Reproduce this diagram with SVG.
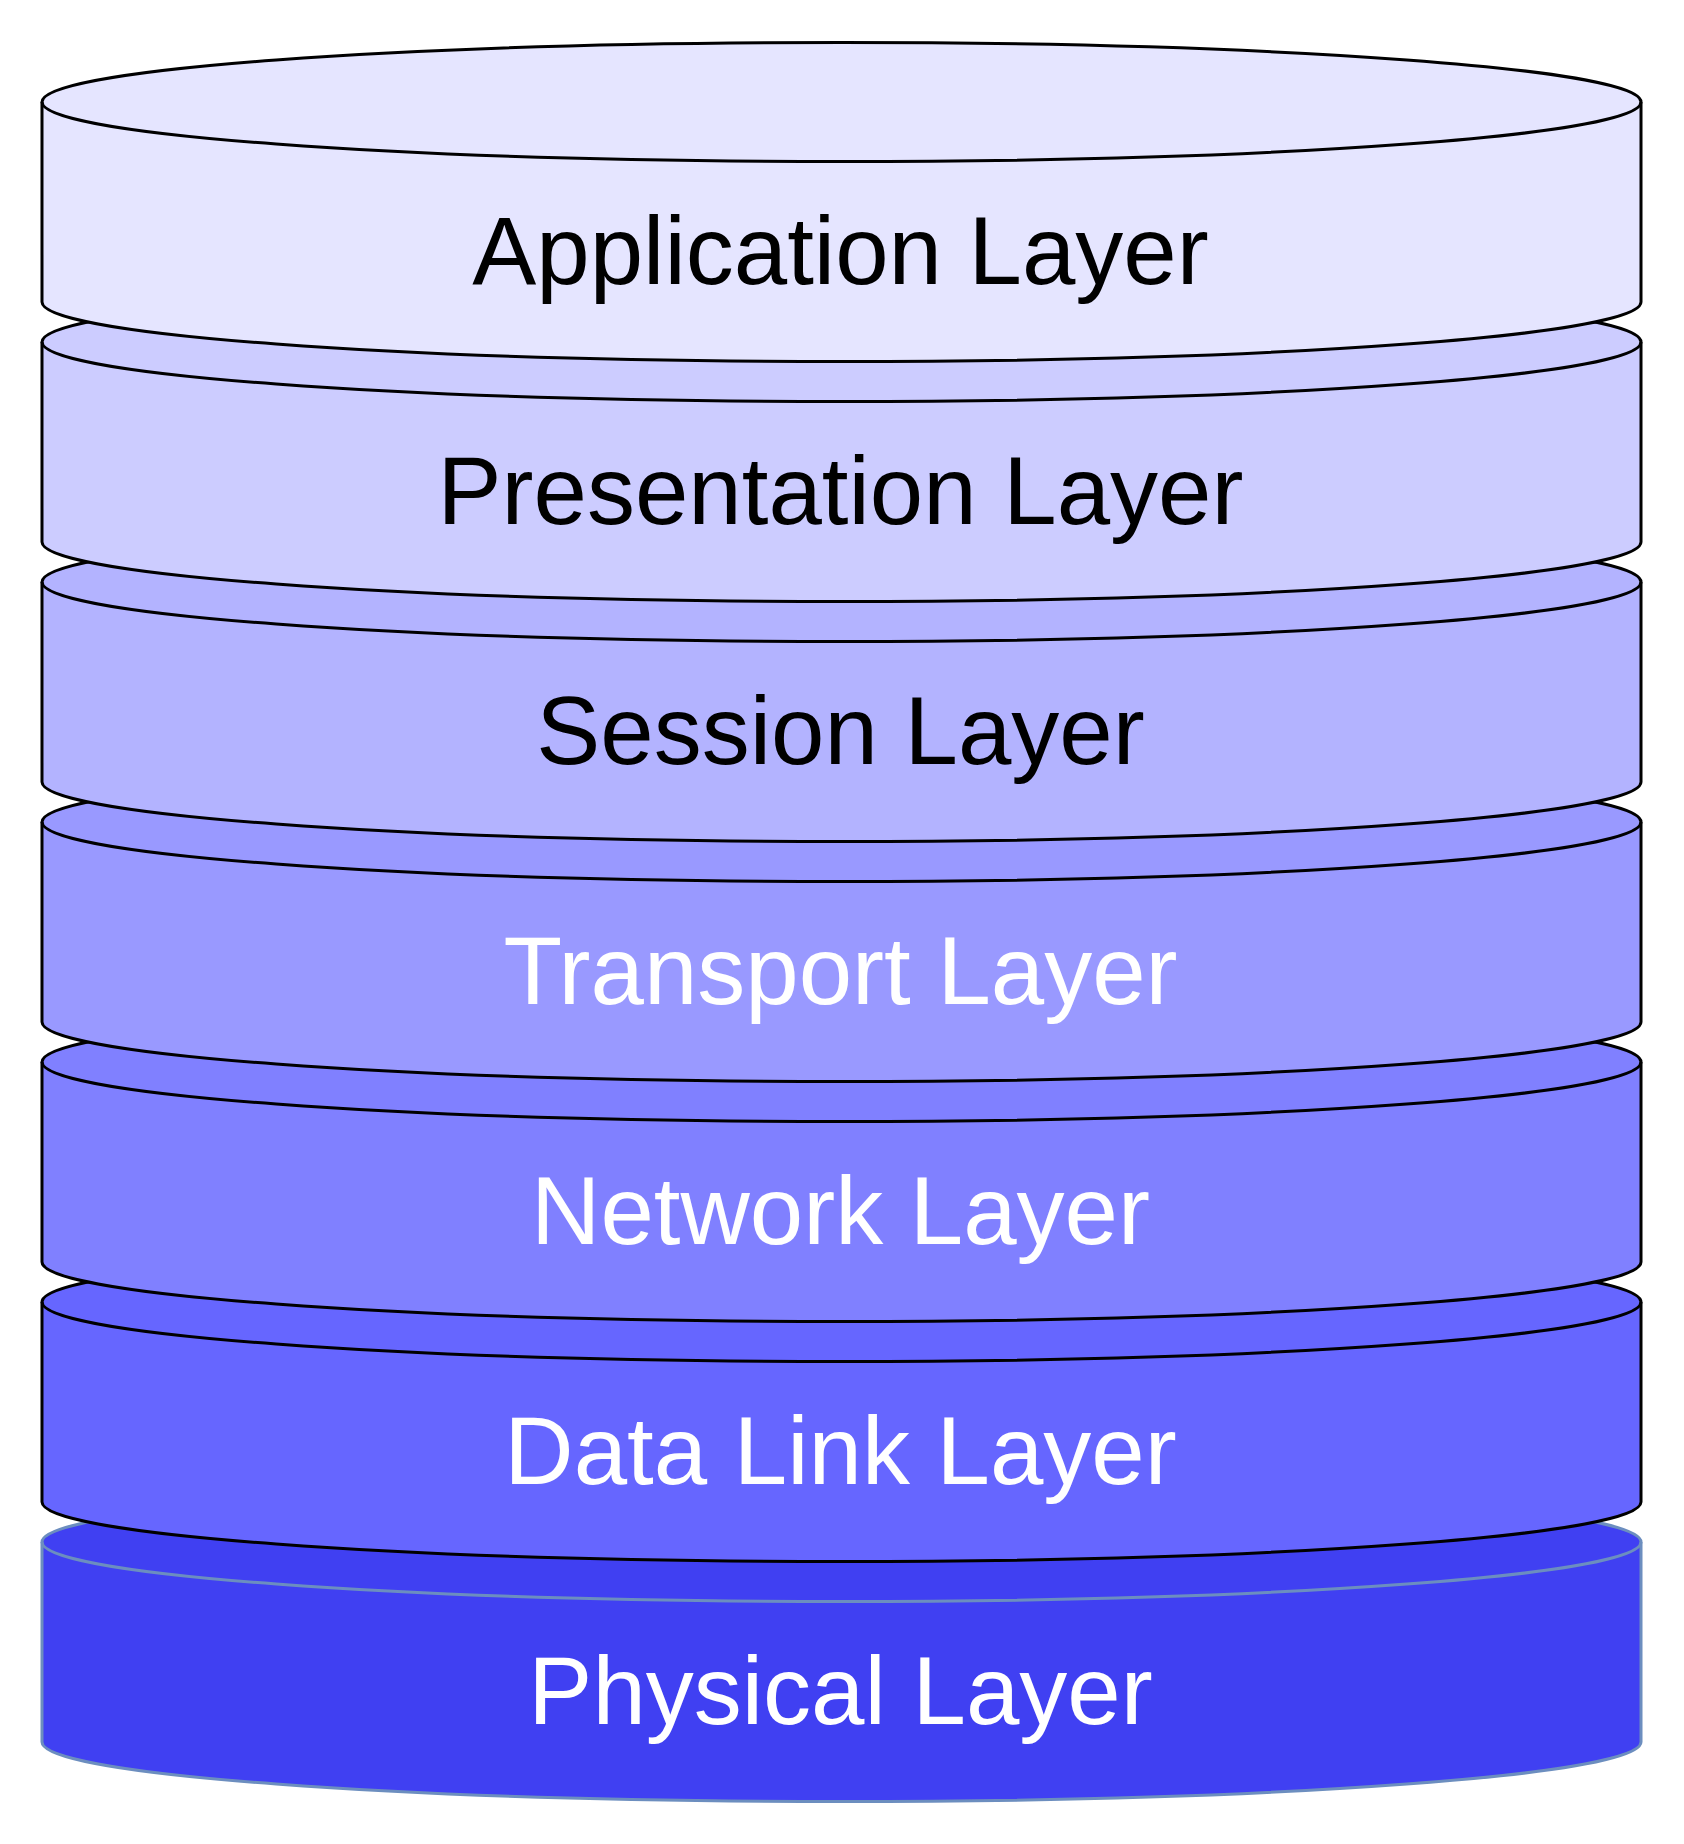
<svg xmlns="http://www.w3.org/2000/svg" width="1684" height="1844" viewBox="0 0 1684 1844">
<style>
.body{stroke:#000;stroke-width:3;stroke-linejoin:round}
.rim{fill:none;stroke:#000;stroke-width:3}
.phys .body,.phys .rim{stroke:#6C8EBF}
.lbl{font-family:"Liberation Sans",Arial,sans-serif;font-size:96px;text-anchor:middle}
.dark{fill:#000}
.light{fill:#fff}
</style>
<rect width="1684" height="1844" fill="#fff"/>
<g id="connectors"></g>
<g id="physical" class="phys">
<path class="body" fill="#4040F2" d="M42,1542 A799.5,59.5 0 0 1 1641,1542 L1641,1742 A799.5,59.5 0 0 1 42,1742 Z"/>
<path class="rim" d="M42,1542 A799.5,59.5 0 0 0 1641,1542"/>
<text class="lbl light" x="840.5" y="1724">Physical Layer</text>
</g>
<g id="datalink">
<path class="body" fill="#6666FF" d="M42,1302 A799.5,59.5 0 0 1 1641,1302 L1641,1502 A799.5,59.5 0 0 1 42,1502 Z"/>
<path class="rim" d="M42,1302 A799.5,59.5 0 0 0 1641,1302"/>
<text class="lbl light" x="840.5" y="1484">Data Link Layer</text>
</g>
<g id="network">
<path class="body" fill="#8080FF" d="M42,1062 A799.5,59.5 0 0 1 1641,1062 L1641,1262 A799.5,59.5 0 0 1 42,1262 Z"/>
<path class="rim" d="M42,1062 A799.5,59.5 0 0 0 1641,1062"/>
<text class="lbl light" x="840.5" y="1244">Network Layer</text>
</g>
<g id="transport">
<path class="body" fill="#9999FF" d="M42,822 A799.5,59.5 0 0 1 1641,822 L1641,1022 A799.5,59.5 0 0 1 42,1022 Z"/>
<path class="rim" d="M42,822 A799.5,59.5 0 0 0 1641,822"/>
<text class="lbl light" x="840.5" y="1004">Transport Layer</text>
</g>
<g id="session">
<path class="body" fill="#B3B3FF" d="M42,582 A799.5,59.5 0 0 1 1641,582 L1641,782 A799.5,59.5 0 0 1 42,782 Z"/>
<path class="rim" d="M42,582 A799.5,59.5 0 0 0 1641,582"/>
<text class="lbl dark" x="840.5" y="764">Session Layer</text>
</g>
<g id="presentation">
<path class="body" fill="#CCCCFF" d="M42,342 A799.5,59.5 0 0 1 1641,342 L1641,542 A799.5,59.5 0 0 1 42,542 Z"/>
<path class="rim" d="M42,342 A799.5,59.5 0 0 0 1641,342"/>
<text class="lbl dark" x="840.5" y="524">Presentation Layer</text>
</g>
<g id="application">
<path class="body" fill="#E5E5FF" d="M42,102 A799.5,59.5 0 0 1 1641,102 L1641,302 A799.5,59.5 0 0 1 42,302 Z"/>
<path class="rim" d="M42,102 A799.5,59.5 0 0 0 1641,102"/>
<text class="lbl dark" x="840.5" y="284">Application Layer</text>
</g>
</svg>
